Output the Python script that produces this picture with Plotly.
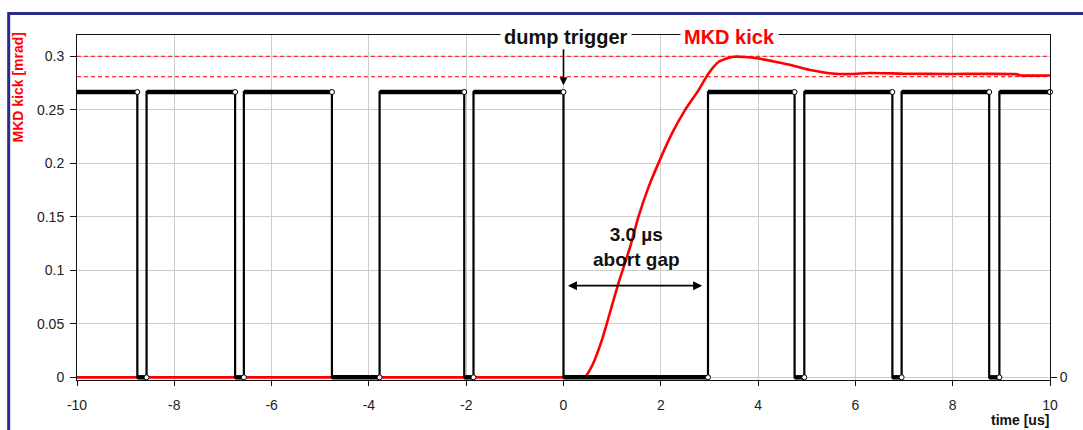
import plotly.graph_objects as go

# ---------------- data ----------------
# MKD kick waveform (time in us, kick in mrad)
mkd_t = [-10, -6, -2, 0, 0.3, 0.45, 0.6, 0.79, 0.99, 1.13, 1.37, 1.54, 1.75, 1.95, 2.23, 2.5,
         2.77, 2.98, 3.19, 3.46, 3.73, 4.01, 4.35, 4.69, 5.1, 5.52, 5.92, 6.3, 7.0, 8.0, 9.3,
         9.4, 10]
mkd_v = [0, 0, 0, 0, 0, 0.001, 0.012, 0.035, 0.066, 0.088, 0.122, 0.15, 0.178, 0.2, 0.228, 0.25,
         0.268, 0.284, 0.295, 0.2995, 0.2995, 0.298, 0.295, 0.2917, 0.287, 0.284, 0.2835,
         0.2845, 0.2838, 0.2836, 0.2834, 0.2822, 0.2822]

# bunch trains (start / end times, us) on the secondary axis
train_start = [-10, -8.57, -6.57, -3.78, -1.85, 2.97, 4.95, 6.95, 8.96]
train_end = [-8.76, -6.75, -4.76, -2.04, 0.0, 4.75, 6.76, 8.75, 10.0]
bunch_level = 1.0

# kick tolerance levels (mrad)
limit_levels = [0.3, 0.281]

x_ticks = [-10, -8, -6, -4, -2, 0, 2, 4, 6, 8, 10]
x_ticklabels = ["-10", "-8", "-6", "-4", "-2", "0", "2", "4", "6", "8", "10"]
y_ticks = [0, 0.05, 0.1, 0.15, 0.2, 0.25, 0.3]
y_ticklabels = ["0", "0.05", "0.1", "0.15", "0.2", "0.25", "0.3"]

# ---------------- build bunch paths ----------------
n = len(train_start)
out_x, out_y = [], []
thick_x, thick_y = [], []
for i in range(n):
    s, e = train_start[i], train_end[i]
    if i > 0:
        out_x.append(s); out_y.append(0)
    out_x += [s, e]; out_y += [bunch_level, bunch_level]
    if i < n - 1:
        out_x.append(e); out_y.append(0)
    thick_x += [s, e, None]; thick_y += [bunch_level, bunch_level, None]
    if i < n - 1:
        thick_x += [e, train_start[i + 1], None]; thick_y += [0, 0, None]

mark_x = list(train_end) + list(train_start[1:])
mark_y = [bunch_level] * len(train_end) + [0] * (n - 1)

FONT = "Liberation Sans, Arial, sans-serif"

Y1_MIN, Y1_MAX = -0.0025, 0.32
Y2_SCALE = bunch_level / 0.2667
Y2_MIN, Y2_MAX = Y1_MIN * Y2_SCALE, Y1_MAX * Y2_SCALE

fig = go.Figure()

for lv in limit_levels:
    fig.add_trace(go.Scatter(x=[x_ticks[0], x_ticks[-1]], y=[lv, lv], mode="lines",
                             line=dict(color="#ff2a2a", width=1.2, dash="4px,3px"),
                             hoverinfo="skip"))

fig.add_trace(go.Scatter(x=mkd_t, y=mkd_v, mode="lines",
                         line=dict(color="#ff0000", width=2.6, shape="spline", smoothing=0.5)))

fig.add_trace(go.Scatter(x=out_x, y=out_y, yaxis="y2", mode="lines",
                         line=dict(color="#000000", width=2.2)))
fig.add_trace(go.Scatter(x=thick_x, y=thick_y, yaxis="y2", mode="lines",
                         line=dict(color="#000000", width=4.5)))
fig.add_trace(go.Scatter(x=mark_x, y=mark_y, yaxis="y2", mode="markers",
                         marker=dict(color="white", size=5, line=dict(color="#000", width=1)),
                         cliponaxis=False))

fig.update_layout(
    width=1083, height=430, autosize=False,
    margin=dict(l=77, r=33, t=35, b=50),
    paper_bgcolor="white", plot_bgcolor="white",
    showlegend=False,
    font=dict(family=FONT, size=14, color="#222"),
    xaxis=dict(range=[-10, 10], tickvals=x_ticks, ticktext=x_ticklabels, showgrid=True,
               gridcolor="#cccccc", gridwidth=1, showline=True, linecolor="#111", linewidth=1,
               mirror=True, ticks="outside", ticklen=5, tickcolor="#111", zeroline=False,
               tickfont=dict(size=14, color="#222"), ticklabelstandoff=7),
    yaxis=dict(range=[Y1_MIN, Y1_MAX], tickvals=y_ticks, ticktext=y_ticklabels, showgrid=True,
               gridcolor="#cccccc", gridwidth=1, showline=True, linecolor="#111", linewidth=1,
               mirror=True, ticks="outside", ticklen=6, tickcolor="#111", zeroline=False,
               tickfont=dict(size=14, color="#222"), ticklabelstandoff=3),
    yaxis2=dict(range=[Y2_MIN, Y2_MAX], overlaying="y", side="right", tickvals=[0],
                ticktext=["0"], ticks="outside", ticklen=6, tickcolor="#111", showgrid=False,
                showline=False, zeroline=False, tickfont=dict(size=14, color="#222")),
)

ann = []
ann.append(dict(x=0.05, xref="x", y=0.994, yref="paper", text="<b>dump trigger</b>",
                showarrow=False, font=dict(size=20, color="#111"), bgcolor="white",
                borderpad=3, yanchor="middle"))
ann.append(dict(x=3.41, xref="x", y=0.994, yref="paper", text="<b>MKD kick</b>",
                showarrow=False, font=dict(size=20, color="#ff0000"), bgcolor="white",
                borderpad=3, yanchor="middle"))
ann.append(dict(x=1.5, xref="x", y=0.122, yref="y", text="<b>3.0 µs<br>abort gap</b>",
                showarrow=False, font=dict(size=19, color="#111"), yanchor="middle"))
ann.append(dict(x=0, xref="x", y=0.273, yref="y", ax=0, axref="x", ay=0.308, ayref="y",
                text="", showarrow=True, arrowhead=2, arrowsize=1, arrowwidth=1.6,
                arrowcolor="#000"))
ann.append(dict(x=2.85, xref="x", y=0.0857, yref="y", ax=0.06, axref="x", ay=0.0857,
                ayref="y", text="", showarrow=True, arrowhead=2, startarrowhead=2,
                arrowside="end+start", arrowsize=1, startarrowsize=1, arrowwidth=1.8,
                arrowcolor="#000"))
ann.append(dict(x=-0.0606, xref="paper", y=0.848, yref="paper", text="<b>MKD kick [mrad]</b>",
                textangle=-90, showarrow=False, font=dict(size=14, color="#ff0000"),
                xanchor="center", yanchor="middle"))
ann.append(dict(x=0.969, xref="paper", y=-0.116, yref="paper", text="<b>time [us]</b>",
                showarrow=False, font=dict(size=14, color="#111"),
                xanchor="center", yanchor="middle"))
fig.update_layout(annotations=ann)

fig.add_shape(type="rect", xref="paper", yref="paper", x0=-0.0702, x1=1.05, y0=-0.3, y1=1.062,
              line=dict(color="#2b2b8f", width=3), fillcolor="rgba(0,0,0,0)", layer="above")

fig.write_html("out.html")
